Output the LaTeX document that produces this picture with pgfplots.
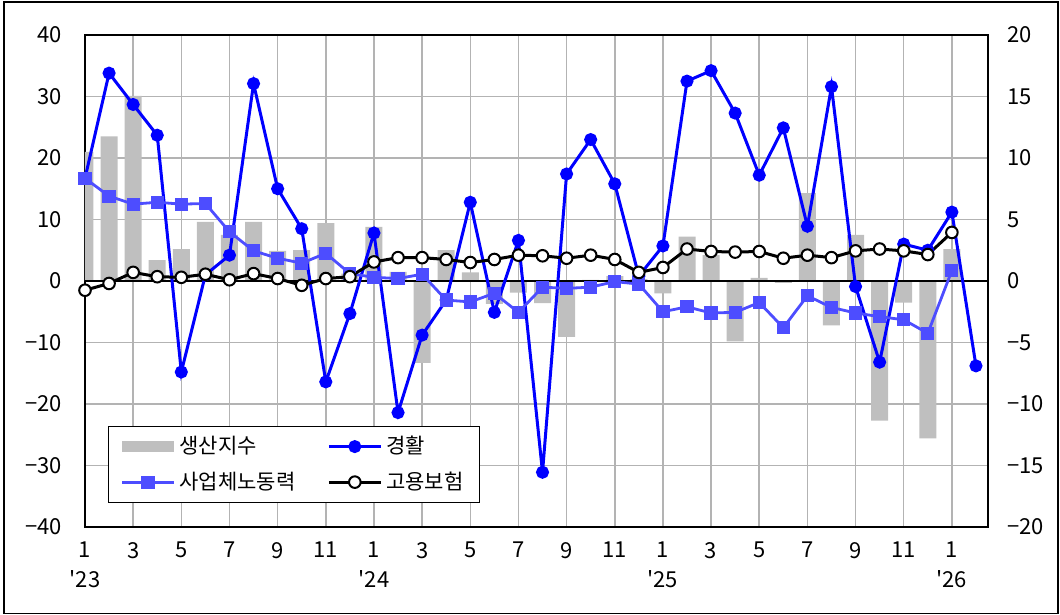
\documentclass[border=0pt]{standalone}
\usepackage{fontspec}
\setmainfont{Noto Sans CJK KR}
\newfontfamily\aplain{Noto Sans CJK KR}[Ligatures=TeXOff]
\usepackage{pgfplots}
\usepackage{pgfplotstable}
\pgfplotsset{compat=1.18}
\definecolor{barc}{HTML}{BFBFBF}
\definecolor{gblue}{HTML}{0000FF}
\definecolor{sblue}{HTML}{4D4DFF}
\definecolor{gridc}{HTML}{B3B3B3}
\pgfplotsset{longline/.style={legend image code/.code={\draw[mark repeat=2,mark phase=2,##1] plot coordinates {(0pt,0pt) (13pt,0pt) (26pt,0pt)};}}}
\newcommand{\ap}{{\aplain\symbol{39}}}

\pgfplotstableread{
i bar gh sa go
0 21 16.7 16.7 -1.5
1 23.5 33.8 13.8 -0.4
2 30.1 28.7 12.5 1.4
3 3.4 23.7 12.8 0.7
4 5.2 -14.8 12.5 0.6
5 9.6 1.0 12.6 1.1
6 7.5 4.2 8.0 0.2
7 9.6 32.1 4.9 1.2
8 4.9 15.0 3.7 0.4
9 5.0 8.5 2.9 -0.7
10 9.4 -16.4 4.5 0.4
11 1.2 -5.3 1.2 0.7
12 8.8 7.8 0.6 3.1
13 1.5 -21.4 0.4 3.8
14 -13.3 -8.8 1.1 3.8
15 5.0 -3.1 -3.1 3.5
16 1.4 12.8 -3.4 3.0
17 -3.7 -5.1 -2.0 3.5
18 -1.9 6.6 -5.1 4.2
19 -3.6 -31.1 -1.0 4.1
20 -9.1 17.4 -1.2 3.7
21 0.2 23.0 -1.0 4.2
22 0.8 15.8 -0.1 3.5
23 0.3 0.8 -0.5 1.4
24 -2.0 5.7 -5.0 2.2
25 7.2 32.5 -4.2 5.2
26 4.2 34.2 -5.2 4.8
27 -9.8 27.3 -5.1 4.7
28 0.5 17.2 -3.5 4.8
29 -0.3 24.9 -7.6 3.7
30 14.3 8.9 -2.4 4.2
31 -7.2 31.6 -4.3 3.8
32 7.5 -0.9 -5.2 4.9
33 -22.7 -13.2 -5.8 5.2
34 -3.5 6.0 -6.3 4.9
35 -25.6 5.0 -8.5 4.3
36 5.2 11.2 1.7 7.9
37 nan -13.8 nan nan
}\data

\begin{document}
\begin{tikzpicture}
\begin{axis}[name=main,
  scale only axis, width=451.5pt, height=246pt,
  xmin=0, xmax=37.5, ymin=-40, ymax=40,
  xtick={0,2,...,36},
  xticklabels={{1\\\ap23},3,5,7,9,11,{1\\\ap24},3,5,7,9,11,{1\\\ap25},3,5,7,9,11,{1\\\ap26}},
  ytick={-40,-30,...,40},
  yticklabels={−40,−30,−20,−10,0,10,20,30,40},
  major tick length=0pt,
  grid=major,
  major grid style={gridc, line width=0.75pt},
  axis line style={black, line width=0.7pt},
  tick label style={font=\fontsize{11}{15}\selectfont},
  xticklabel style={align=center, yshift=-4pt},
  yticklabel style={xshift=-8pt},
  legend columns=2,
  legend style={at={(0,0)}, anchor=south west, xshift=11.5pt, yshift=12pt,
    draw=black, line width=0.6pt, font=\fontsize{10.5}{12}\selectfont,
    cells={anchor=west}, inner xsep=6pt, inner ysep=3pt,
    /tikz/every even column/.append style={column sep=14pt},
    row sep=3.5pt},
]
\addplot[ybar, bar width=8.5pt, fill=barc, draw=none,
  legend image code/.code={\fill[barc] (0pt,-2.75pt) rectangle (26pt,2.75pt);}]
  table[x=i, y=bar] {\data};
\addlegendentry{생산지수}
\draw[black, line width=0.7pt] (axis cs:0,0) -- (axis cs:37.5,0);
\addplot[gblue, line width=1.5pt, mark=*, mark size=2.5pt, mark options={fill=gblue, draw=gblue}, longline]
  table[x=i, y=gh] {\data};
\addlegendentry{경활}
\addplot[sblue, line width=1.4pt, mark=square*, mark size=2.6pt, mark options={fill=sblue, draw=sblue}, longline]
  table[x=i, y=sa] {\data};
\addlegendentry{사업체노동력}
\addplot[black, line width=1.5pt, mark=*, mark size=2.9pt, mark options={fill=white, draw=black, line width=1pt}, longline]
  table[x=i, y=go] {\data};
\addlegendentry{고용보험}
\end{axis}
\begin{axis}[
  scale only axis, width=451.5pt, height=246pt,
  xmin=0, xmax=37.5, ymin=-20, ymax=20,
  hide x axis,
  axis y line*=right,
  axis line style={black, line width=0.7pt},
  ytick={-20,-15,...,20},
  yticklabels={−20,−15,−10,−5,0,5,10,15,20},
  major tick length=0pt,
  tick label style={font=\fontsize{11}{15}\selectfont},
  yticklabel style={anchor=west, xshift=6pt},
]
\end{axis}
\pgfresetboundingbox
\path[use as bounding box] ([xshift=-42.5pt,yshift=-44pt]main.south west) rectangle ([xshift=36pt,yshift=17.5pt]main.north east);
\draw[line width=0.75pt] ([xshift=-40.5pt,yshift=-43.2pt]main.south west) rectangle ([xshift=35pt,yshift=16.5pt]main.north east);
\end{tikzpicture}
\end{document}
